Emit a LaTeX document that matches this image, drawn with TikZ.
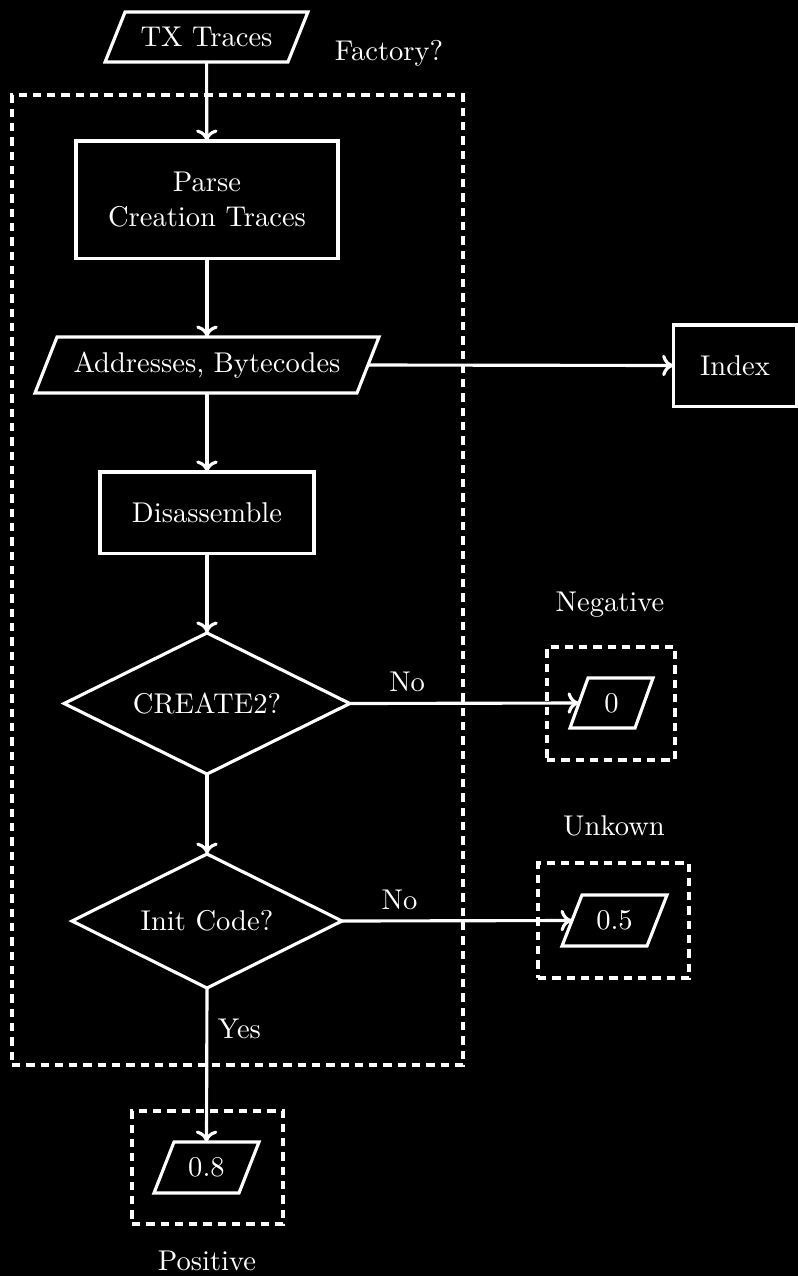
\documentclass[tikz,border=0pt]{standalone}
\usetikzlibrary{shapes.geometric,arrows.meta}
\newcommand{\drawpara}[2]{%
  \draw[ln,line join=miter] ([xshift=-#2/2]#1.south west) -- ([xshift=#2/2]#1.north west) -- ([xshift=#2/2]#1.north east) -- ([xshift=-#2/2]#1.south east) -- cycle;}
\begin{document}
\begin{tikzpicture}[x=0.35pt,y=-0.35pt,
  every node/.style={text=white},
  ln/.style={draw=white,line width=1.1pt},
  arr/.style={ln,-{To[length=4pt,width=7.5pt]}},
  boxn/.style={ln,rectangle,inner sep=0pt,outer sep=0pt},
  para/.style={rectangle,inner sep=0pt,outer sep=0pt},
  dia/.style={ln,diamond,aspect=2.5,inner sep=0pt,outer sep=0pt},
  dbox/.style={draw=white,line width=1.1pt,dash pattern=on 2.9pt off 2.1pt,rectangle,inner sep=0pt}]
\useasboundingbox (0,0) rectangle (798,1276);
\fill[black] (0,0) rectangle (798,1276);
% frames
\node[dbox,minimum width=157.85pt,minimum height=339.5pt] (fbox) at (237.5,580) {};
\node[dbox,minimum width=44.8pt,minimum height=39.55pt] (negbox) at (611,703.5) {};
\node[dbox,minimum width=52.85pt,minimum height=40.25pt] (unkbox) at (613.5,920.5) {};
\node[dbox,minimum width=52.85pt,minimum height=39.55pt] (posbox) at (207.5,1167.5) {};
% nodes
\node[para,minimum width=64pt,minimum height=17.5pt] (tx) at (206.5,37) {TX Traces};
\drawpara{tx}{7pt}
\node (factory) at (389,53) {Factory?};
\node[boxn,minimum width=91.7pt,minimum height=41pt,align=center] (parse) at (207,199.5) {Parse\\Creation Traces};
\node[para,minimum width=112.7pt,minimum height=19.6pt] (addr) at (207,365) {Addresses, Bytecodes};
\drawpara{addr}{7.7pt}
\node[boxn,minimum width=43pt,minimum height=28.4pt] (index) at (735,365.5) {Index};
\node[boxn,minimum width=74.9pt,minimum height=28.4pt] (dis) at (207,512.5) {Disassemble};
\node[dia,minimum width=100pt,minimum height=49.4pt] (c2) at (207,703.5) {CREATE2?};
\node[dia,minimum width=94.5pt,minimum height=46.9pt] (ic) at (207,921) {Init Code?};
\node[para,minimum width=22.75pt,minimum height=17.5pt] (p0) at (611.5,703) {0};
\drawpara{p0}{6.3pt}
\node[para,minimum width=29.75pt,minimum height=17.85pt] (p05) at (614.5,920.5) {0.5};
\drawpara{p05}{7pt}
\node[para,minimum width=29.75pt,minimum height=17.85pt] (p08) at (206.5,1167.5) {0.8};
\drawpara{p08}{7pt}
\node (neg) at (610,605) {Negative};
\node (unk) at (614,826) {Unkown};
\node (pos) at (207,1261) {Positive};
% edges
\draw[arr] (tx) -- (parse);
\draw[arr] (parse) -- (addr);
\draw[arr] (addr.east) -- (index.west);
\draw[arr] (addr) -- (dis);
\draw[arr] (dis) -- (c2);
\draw[arr] (c2.east) -- node[pos=0.25,above] {No} (p0.west);
\draw[arr] (c2) -- (ic);
\draw[arr] (ic.east) -- node[pos=0.25,above] {No} (p05.west);
\draw[arr] (ic.south) -- node[pos=0.265,right] {Yes} (p08.north);
\end{tikzpicture}
\end{document}
